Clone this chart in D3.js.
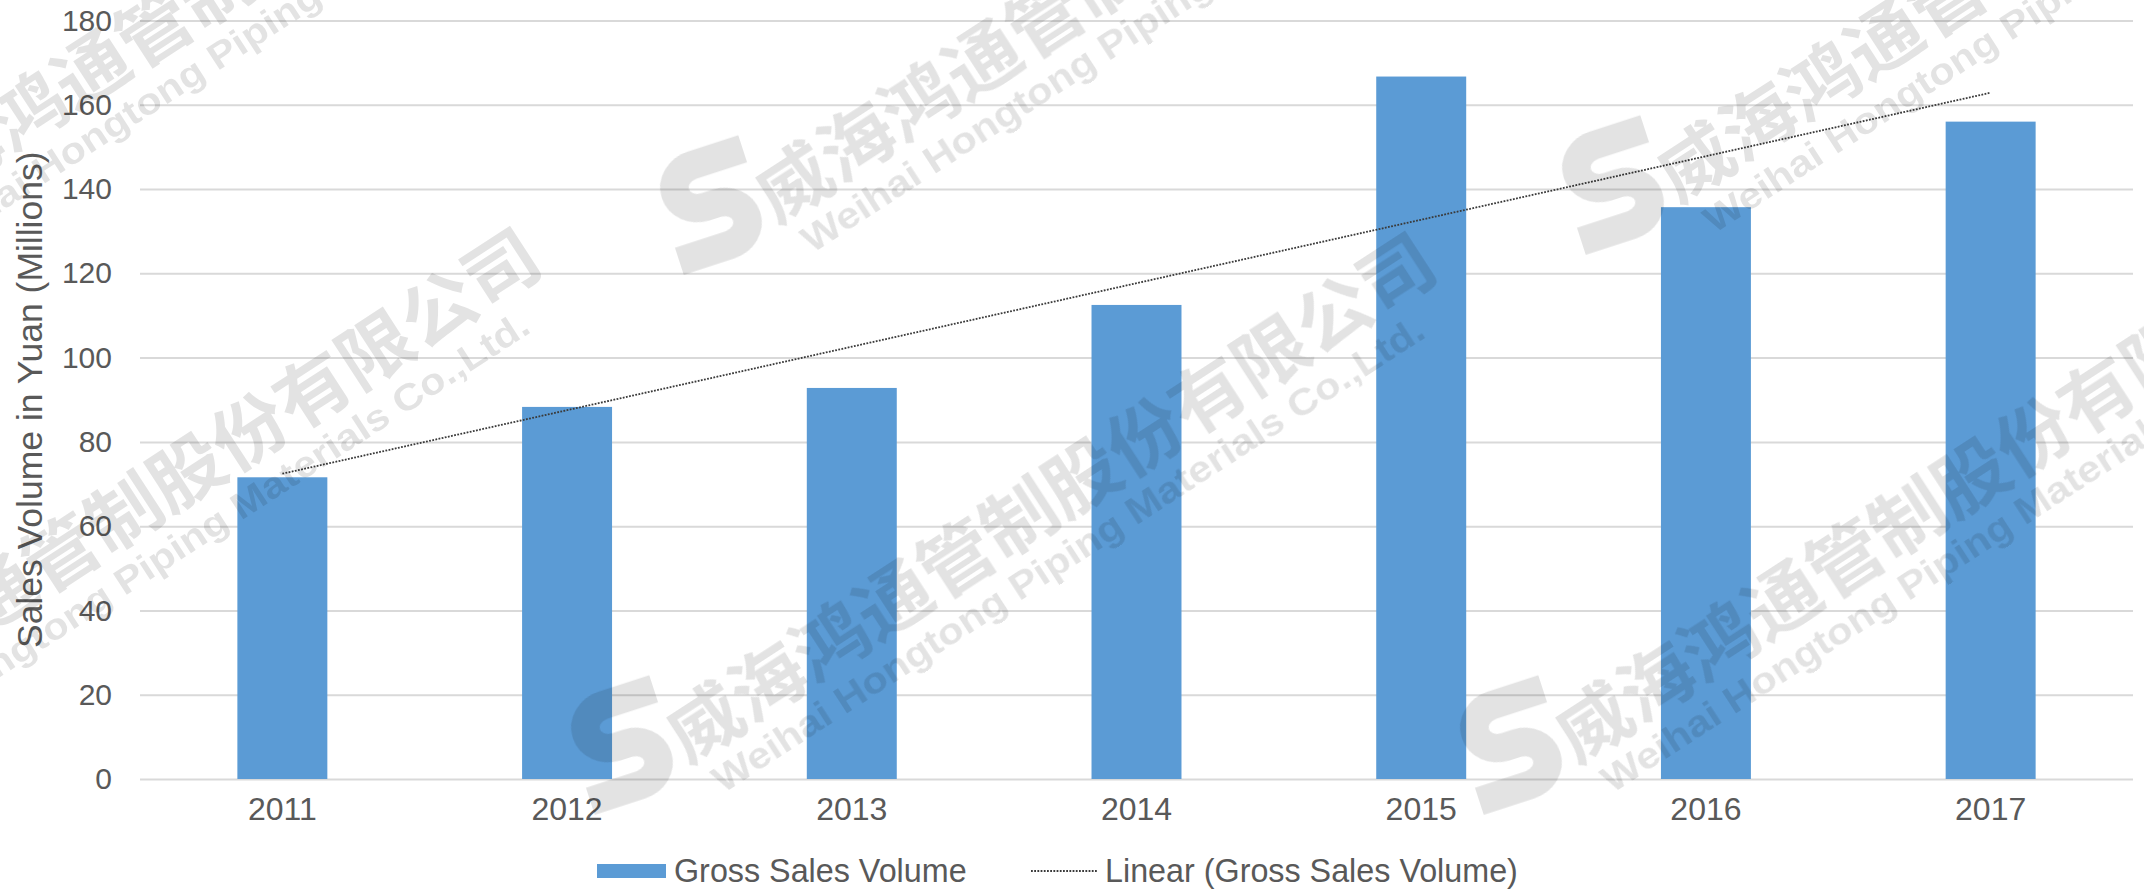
<!DOCTYPE html>
<html>
<head>
<meta charset="utf-8">
<script src="https://cdn.jsdelivr.net/npm/d3@7/dist/d3.min.js"></script>
<style>
    body { margin: 0; background: #fff; }
    text { font-family: "Liberation Sans", Arial, sans-serif; fill: #595959; }
</style>
</head>
<body>
<div id="chart"></div>
<script>
// chart data
const years = ["2011", "2012", "2013", "2014", "2015", "2016", "2017"];
const salesVolume = [71.6, 88.3, 92.8, 112.5, 166.7, 135.7, 156.0];
const yTicks = [0, 20, 40, 60, 80, 100, 120, 140, 160, 180];
const yTitle = "Sales Volume in Yuan (Millions)";
const legendLabels = ["Gross Sales Volume", "Linear (Gross Sales Volume)"];
const watermarkCn = "威海鸿通管制股份有限公司";
const watermarkEn = "Weihai Hongtong Piping Materials Co.,Ltd.";

class SalesVis {
    constructor(_parentElement) {
        this.parentElement = _parentElement;
        this.initVis();
    }

    initVis() {
        let vis = this;

        vis.width = 2144;
        vis.height = 892;
        vis.plot = {left: 140, right: 2133, top: 20.5, bottom: 779};

        vis.svg = d3.select("#" + vis.parentElement).append("svg")
            .attr("width", vis.width)
            .attr("height", vis.height);

        // scales
        vis.x = d3.scaleBand()
            .domain(years)
            .range([vis.plot.left, vis.plot.right])
            .paddingInner(0.684)
            .paddingOuter(0.342);
        vis.y = d3.scaleLinear()
            .domain([0, 180])
            .range([vis.plot.bottom, vis.plot.top]);

        vis.wrangleData();
    }

    wrangleData() {
        let vis = this;

        vis.displayData = years.map((d, i) => ({year: d, value: salesVolume[i], idx: i}));

        // least squares trend (Excel "Linear" trendline)
        let mx = d3.mean(vis.displayData, d => d.idx);
        let my = d3.mean(vis.displayData, d => d.value);
        let slope = d3.sum(vis.displayData, d => (d.idx - mx) * (d.value - my)) /
            d3.sum(vis.displayData, d => (d.idx - mx) * (d.idx - mx));
        vis.trend = vis.displayData.map(d => ({year: d.year, value: my + slope * (d.idx - mx)}));

        vis.updateVis();
    }

    updateVis() {
        let vis = this;

        // gridlines
        vis.svg.append("g")
            .attr("class", "grid")
            .attr("transform", `translate(${vis.plot.left},0)`)
            .call(d3.axisLeft(vis.y).tickValues(yTicks).tickSize(-(vis.plot.right - vis.plot.left)).tickFormat(""))
            .call(g => g.select(".domain").remove())
            .selectAll("line")
            .attr("stroke", "#d9d9d9")
            .attr("stroke-width", 2);

        // y axis labels
        vis.svg.append("g")
            .attr("class", "axis axis--y")
            .attr("transform", `translate(${vis.plot.left},0)`)
            .call(d3.axisLeft(vis.y).tickValues(yTicks).tickSize(0).tickPadding(28))
            .call(g => g.select(".domain").remove())
            .selectAll("text")
            .style("font-size", "30px")
            .attr("fill", "#595959");

        // x axis labels
        vis.svg.append("g")
            .attr("class", "axis axis--x")
            .attr("transform", `translate(0,${vis.plot.bottom})`)
            .call(d3.axisBottom(vis.x).tickSize(0).tickPadding(18))
            .call(g => g.select(".domain").remove())
            .selectAll("text")
            .style("font-size", "32px")
            .attr("fill", "#595959");

        // bars
        vis.svg.append("g")
            .attr("class", "bars")
            .selectAll("rect")
            .data(vis.displayData)
            .enter()
            .append("rect")
            .attr("x", d => vis.x(d.year))
            .attr("y", d => vis.y(d.value))
            .attr("width", vis.x.bandwidth())
            .attr("height", d => vis.y(0) - vis.y(d.value))
            .attr("fill", "#5b9bd5");

        // trend line
        let line = d3.line()
            .x(d => vis.x(d.year) + vis.x.bandwidth() / 2)
            .y(d => vis.y(d.value));
        vis.svg.append("path")
            .datum(vis.trend)
            .attr("d", line)
            .attr("fill", "none")
            .attr("stroke", "#3a3a3a")
            .attr("stroke-width", 1.8)
            .attr("stroke-dasharray", "1.8,1.4");

        // y title
        vis.svg.append("text")
            .attr("transform", `translate(42, ${(vis.plot.top + vis.plot.bottom) / 2}) rotate(-90)`)
            .attr("text-anchor", "middle")
            .style("font-size", "35.5px")
            .text(yTitle);

        // legend
        vis.legend = vis.svg.append("g")
            .attr("class", "legend")
            .attr("transform", "translate(597, 871)");

        vis.legend.append("rect")
            .attr("x", 0)
            .attr("y", -7)
            .attr("width", 69)
            .attr("height", 14)
            .attr("fill", "#5b9bd5");

        vis.legend.append("text")
            .attr("x", 77)
            .attr("dy", "0.35em")
            .style("font-size", "32.3px")
            .text(legendLabels[0]);

        vis.legend.append("line")
            .attr("x1", 434)
            .attr("x2", 501)
            .attr("stroke", "#3a3a3a")
            .attr("stroke-width", 1.8)
            .attr("stroke-dasharray", "1.8,1.4");

        vis.legend.append("text")
            .attr("x", 508)
            .attr("dy", "0.35em")
            .style("font-size", "32.3px")
            .text(legendLabels[1]);

        vis.drawWatermark();
    }

    drawWatermark() {
        let vis = this;

        // tile anchors (logo centres)
        let tiles = [[-180, 215], [711, 205], [1613, 185], [-273, 740], [622, 745], [1511, 745]];

        let wm = vis.svg.append("g")
            .attr("class", "watermark")
            .attr("opacity", 0.11)
            .style("pointer-events", "none");

        let tile = wm.selectAll("g")
            .data(tiles)
            .enter()
            .append("g")
            .attr("transform", d => `translate(${d[0]},${d[1]})`);

        tile.append("path")
            .attr("transform", "rotate(-18) scale(0.95)")
            .attr("d", "M50,-46 H-6 A26,23 0 0 0 -6,0 H6 A26,23 0 0 1 6,46 H-50")
            .attr("fill", "none")
            .attr("stroke", "#000")
            .attr("stroke-width", 30);

        let txt = tile.append("g")
            .attr("transform", "rotate(-33)");

        txt.append("text")
            .attr("x", 44)
            .attr("y", 52)
            .attr("textLength", 900)
            .attr("lengthAdjust", "spacingAndGlyphs")
            .style("font-family", "'Noto Sans CJK SC', sans-serif")
            .style("font-weight", "bold")
            .style("font-size", "72px")
            .style("fill", "#000")
            .text(watermarkCn);

        txt.append("text")
            .attr("x", 58)
            .attr("y", 96)
            .attr("textLength", 840)
            .attr("lengthAdjust", "spacingAndGlyphs")
            .style("font-weight", "bold")
            .style("font-size", "37px")
            .style("fill", "#000")
            .text(watermarkEn);
    }
}

new SalesVis("chart");
</script>
</body>
</html>
